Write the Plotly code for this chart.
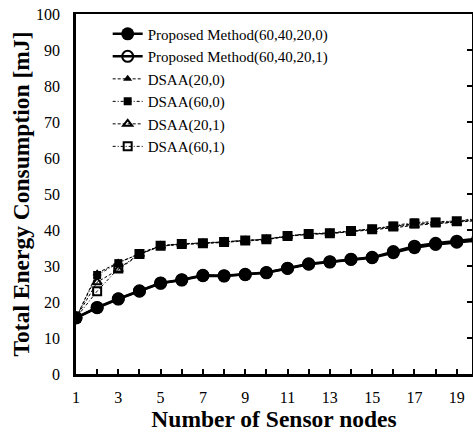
import plotly.graph_objects as go

x_nodes = list(range(1, 21))
x_tick_labels = [str(v) if v % 2 == 1 else "" for v in x_nodes]

proposed_0 = [15.6, 18.4, 20.8, 23.0, 25.2, 26.1, 27.3, 27.2, 27.6, 28.1, 29.3, 30.5, 31.1, 31.8, 32.3, 33.7, 35.1, 36.0, 36.6, 37.1]
proposed_1 = [15.6, 18.5, 20.9, 23.1, 25.3, 26.2, 27.4, 27.3, 27.7, 28.2, 29.4, 30.6, 31.2, 31.9, 32.4, 34.0, 35.5, 36.3, 36.9, 37.6]
dsaa_20_0 = [15.6, 28.0, 31.0, 33.4, 35.6, 36.1, 36.3, 36.7, 37.1, 37.4, 38.3, 38.9, 39.0, 39.6, 40.1, 40.8, 41.6, 41.9, 42.2, 42.9]
dsaa_60_0 = [15.6, 27.5, 30.8, 33.5, 35.7, 36.2, 36.4, 36.8, 37.2, 37.5, 38.4, 39.0, 39.2, 39.8, 40.3, 41.2, 42.1, 42.3, 42.5, 43.2]
dsaa_20_1 = [15.6, 25.5, 29.0, 33.2, 35.5, 36.0, 36.2, 36.6, 37.0, 37.3, 38.2, 38.8, 39.0, 39.5, 40.0, 40.6, 41.3, 41.7, 42.0, 42.6]
dsaa_60_1 = [15.6, 23.0, 29.3, 33.3, 35.6, 36.1, 36.3, 36.7, 37.1, 37.4, 38.3, 38.9, 39.1, 39.7, 40.2, 41.0, 41.8, 42.1, 42.4, 43.0]

series = [
    ("Proposed Method(60,40,20,0)", proposed_0, "solid", 2.5, "circle", 13, "black"),
    ("Proposed Method(60,40,20,1)", proposed_1, "solid", 2.5, "circle-open", 11, "black"),
    ("DSAA(20,0)", dsaa_20_0, "3px,2px", 1, "triangle-up", 8, "black"),
    ("DSAA(60,0)", dsaa_60_0, "3px,2px,1px,2px", 1, "square", 8, "black"),
    ("DSAA(20,1)", dsaa_20_1, "3px,2px", 1, "triangle-up-open", 8, "black"),
    ("DSAA(60,1)", dsaa_60_1, "3px,2px,1px,2px", 1, "square-open", 8, "black"),
]

fig = go.Figure()
for name, vals, dash, lw, sym, ms, col in series:
    fig.add_trace(go.Scatter(
        x=x_nodes, y=vals, name=name, mode="lines+markers",
        line=dict(color=col, width=lw, dash=dash),
        marker=dict(symbol=sym, size=ms, color=col,
                    line=dict(color=col, width=2 if "open" in sym else 0)),
    ))

font_family = "Liberation Serif"
fig.update_layout(
    width=473, height=439,
    margin=dict(l=76, r=1, t=14, b=65, autoexpand=False),
    paper_bgcolor="white", plot_bgcolor="white",
    font=dict(family=font_family, color="black", size=16),
    showlegend=True,
    legend=dict(x=0.08, y=0.99, xanchor="left", yanchor="top",
                bgcolor="rgba(0,0,0,0)", font=dict(size=15, family=font_family),
                tracegroupgap=0, itemwidth=30),
    xaxis=dict(
        range=[1, 19.72], tickmode="array", tickvals=x_nodes, ticktext=x_tick_labels,
        ticks="inside", ticklen=5, tickwidth=1.5, tickcolor="black", automargin=False,
        showline=True, linewidth=2.5, linecolor="black", showgrid=False, zeroline=False,
        ticklabelstandoff=7,
        title=dict(text="<b>Number of Sensor nodes</b>", font=dict(size=23.5, family=font_family), standoff=0),
    ),
    xaxis2=dict(
        overlaying="x", side="top", range=[1, 19.72], showline=True, linewidth=2,
        linecolor="black", showticklabels=False, ticks="", showgrid=False, zeroline=False,
        automargin=False,
    ),
    yaxis=dict(
        range=[0, 100], dtick=10, ticks="", showline=True, linewidth=2.5, linecolor="black",
        showgrid=False, zeroline=False, ticklabelstandoff=10, automargin=False,
        title=dict(text="<b>Total Energy Consumption [mJ]</b>", font=dict(size=23.5, family=font_family), standoff=0),
    ),
    yaxis2=dict(
        overlaying="y", side="right", range=[0, 100], dtick=10, ticks="inside", ticklen=5,
        tickwidth=1.5, tickcolor="black", showticklabels=False, showline=True,
        linewidth=1, linecolor="black", showgrid=False, zeroline=False, automargin=False,
    ),
)
fig.add_trace(go.Scatter(x=[None], y=[None], xaxis="x2", yaxis="y2", showlegend=False, hoverinfo="skip"))

fig.write_html("out.html", config={"displayModeBar": False},
               post_script="document.body.style.margin='0px';document.body.style.overflow='hidden';")
